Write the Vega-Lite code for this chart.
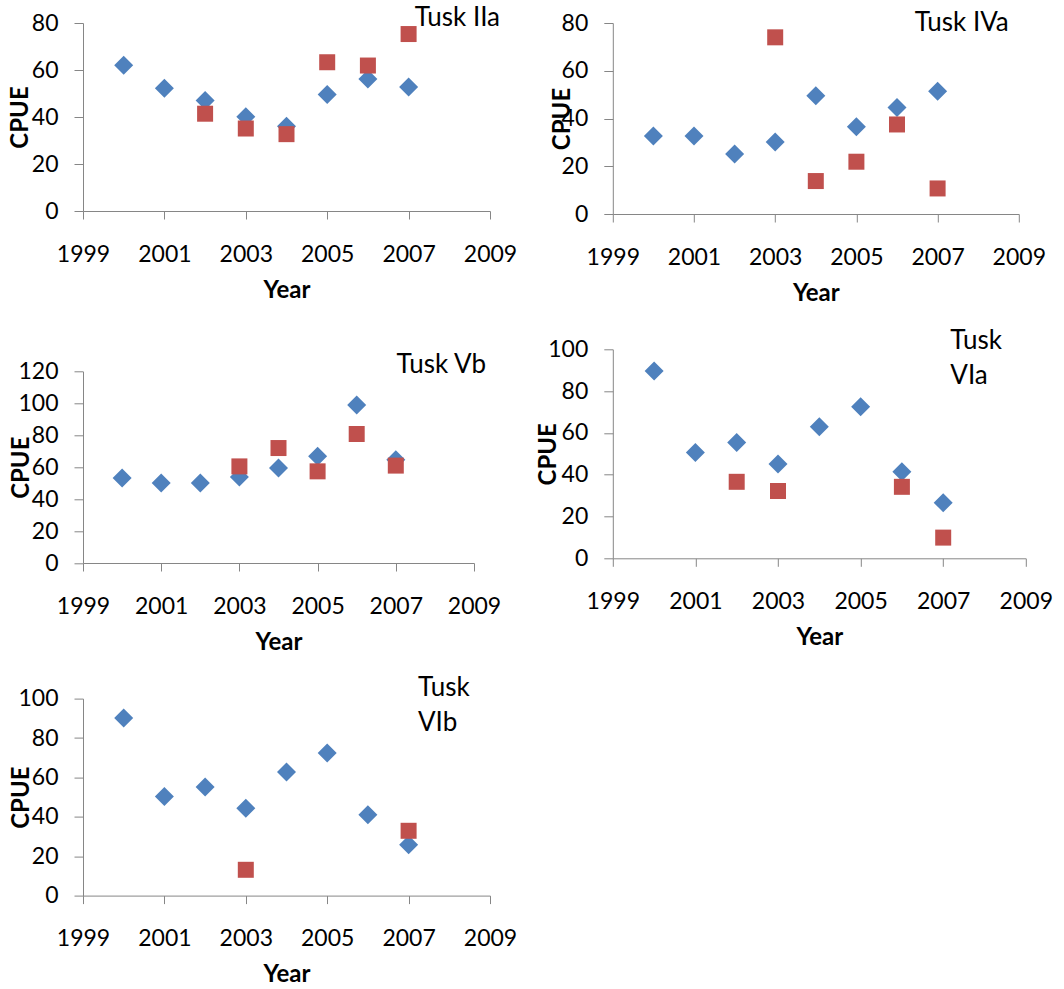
{
  "$schema": "https://vega.github.io/schema/vega-lite/v6.json",
  "padding": {"left": 8, "top": 5, "right": 5, "bottom": 0},
  "bounds": "flush",
  "align": "each",
  "columns": 2,
  "spacing": {"column": 122.8, "row": 135.3},
  "datasets": {
    "cpue": [
      {"panel": "Tusk IIa", "series": "Series1", "year": 2000, "cpue": 62.0},
      {"panel": "Tusk IIa", "series": "Series1", "year": 2001, "cpue": 52.2},
      {"panel": "Tusk IIa", "series": "Series1", "year": 2002, "cpue": 47.0},
      {"panel": "Tusk IIa", "series": "Series1", "year": 2003, "cpue": 40.1},
      {"panel": "Tusk IIa", "series": "Series1", "year": 2004, "cpue": 36.1},
      {"panel": "Tusk IIa", "series": "Series1", "year": 2005, "cpue": 49.6},
      {"panel": "Tusk IIa", "series": "Series1", "year": 2006, "cpue": 56.2},
      {"panel": "Tusk IIa", "series": "Series1", "year": 2007, "cpue": 52.8},
      {"panel": "Tusk IIa", "series": "Series2", "year": 2002, "cpue": 41.4},
      {"panel": "Tusk IIa", "series": "Series2", "year": 2003, "cpue": 35.1},
      {"panel": "Tusk IIa", "series": "Series2", "year": 2004, "cpue": 32.7},
      {"panel": "Tusk IIa", "series": "Series2", "year": 2005, "cpue": 63.3},
      {"panel": "Tusk IIa", "series": "Series2", "year": 2006, "cpue": 61.9},
      {"panel": "Tusk IIa", "series": "Series2", "year": 2007, "cpue": 75.3},
      {"panel": "Tusk IVa", "series": "Series1", "year": 2000, "cpue": 32.7},
      {"panel": "Tusk IVa", "series": "Series1", "year": 2001, "cpue": 32.7},
      {"panel": "Tusk IVa", "series": "Series1", "year": 2002, "cpue": 25.1},
      {"panel": "Tusk IVa", "series": "Series1", "year": 2003, "cpue": 30.2},
      {"panel": "Tusk IVa", "series": "Series1", "year": 2004, "cpue": 49.5},
      {"panel": "Tusk IVa", "series": "Series1", "year": 2005, "cpue": 36.5},
      {"panel": "Tusk IVa", "series": "Series1", "year": 2006, "cpue": 44.6},
      {"panel": "Tusk IVa", "series": "Series1", "year": 2007, "cpue": 51.4},
      {"panel": "Tusk IVa", "series": "Series2", "year": 2003, "cpue": 74.0},
      {"panel": "Tusk IVa", "series": "Series2", "year": 2004, "cpue": 13.8},
      {"panel": "Tusk IVa", "series": "Series2", "year": 2005, "cpue": 21.9},
      {"panel": "Tusk IVa", "series": "Series2", "year": 2006, "cpue": 37.5},
      {"panel": "Tusk IVa", "series": "Series2", "year": 2007, "cpue": 10.7},
      {"panel": "Tusk Vb", "series": "Series1", "year": 2000, "cpue": 53.2},
      {"panel": "Tusk Vb", "series": "Series1", "year": 2001, "cpue": 50.1},
      {"panel": "Tusk Vb", "series": "Series1", "year": 2002, "cpue": 50.1},
      {"panel": "Tusk Vb", "series": "Series1", "year": 2003, "cpue": 53.9},
      {"panel": "Tusk Vb", "series": "Series1", "year": 2004, "cpue": 59.5},
      {"panel": "Tusk Vb", "series": "Series1", "year": 2005, "cpue": 66.8},
      {"panel": "Tusk Vb", "series": "Series1", "year": 2006, "cpue": 99.0},
      {"panel": "Tusk Vb", "series": "Series1", "year": 2007, "cpue": 64.7},
      {"panel": "Tusk Vb", "series": "Series2", "year": 2003, "cpue": 60.5},
      {"panel": "Tusk Vb", "series": "Series2", "year": 2004, "cpue": 72.0},
      {"panel": "Tusk Vb", "series": "Series2", "year": 2005, "cpue": 57.4},
      {"panel": "Tusk Vb", "series": "Series2", "year": 2006, "cpue": 80.8},
      {"panel": "Tusk Vb", "series": "Series2", "year": 2007, "cpue": 61.0},
      {"panel": "Tusk VIa", "series": "Series1", "year": 2000, "cpue": 89.6},
      {"panel": "Tusk VIa", "series": "Series1", "year": 2001, "cpue": 50.6},
      {"panel": "Tusk VIa", "series": "Series1", "year": 2002, "cpue": 55.4},
      {"panel": "Tusk VIa", "series": "Series1", "year": 2003, "cpue": 45.1},
      {"panel": "Tusk VIa", "series": "Series1", "year": 2004, "cpue": 62.9},
      {"panel": "Tusk VIa", "series": "Series1", "year": 2005, "cpue": 72.5},
      {"panel": "Tusk VIa", "series": "Series1", "year": 2006, "cpue": 41.4},
      {"panel": "Tusk VIa", "series": "Series1", "year": 2007, "cpue": 26.6},
      {"panel": "Tusk VIa", "series": "Series2", "year": 2002, "cpue": 36.6},
      {"panel": "Tusk VIa", "series": "Series2", "year": 2003, "cpue": 32.2},
      {"panel": "Tusk VIa", "series": "Series2", "year": 2006, "cpue": 34.2},
      {"panel": "Tusk VIa", "series": "Series2", "year": 2007, "cpue": 9.9},
      {"panel": "Tusk VIb", "series": "Series1", "year": 2000, "cpue": 90.2},
      {"panel": "Tusk VIb", "series": "Series1", "year": 2001, "cpue": 50.3},
      {"panel": "Tusk VIb", "series": "Series1", "year": 2002, "cpue": 55.1},
      {"panel": "Tusk VIb", "series": "Series1", "year": 2003, "cpue": 44.4},
      {"panel": "Tusk VIb", "series": "Series1", "year": 2004, "cpue": 62.7},
      {"panel": "Tusk VIb", "series": "Series1", "year": 2005, "cpue": 72.4},
      {"panel": "Tusk VIb", "series": "Series1", "year": 2006, "cpue": 41.0},
      {"panel": "Tusk VIb", "series": "Series1", "year": 2007, "cpue": 25.8},
      {"panel": "Tusk VIb", "series": "Series2", "year": 2003, "cpue": 13.1},
      {"panel": "Tusk VIb", "series": "Series2", "year": 2007, "cpue": 32.9}
    ]
  },
  "concat": [
    {
      "width": 407, "height": 188,
      "data": {"name": "cpue"},
      "transform": [{"filter": "datum.panel === 'Tusk IIa'"}],
      "title": {"text": "Tusk IIa", "anchor": "end", "frame": "group", "orient": "top", "baseline": "alphabetic", "offset": 0, "dx": 10, "dy": 40},
      "mark": {"type": "point", "filled": true, "opacity": 1, "strokeWidth": 0},
      "encoding": {
        "x": {"field": "year", "type": "quantitative", "scale": {"domain": [1999, 2009], "nice": false, "zero": false}, "axis": {"values": [1999, 2001, 2003, 2005, 2007, 2009], "format": "d", "title": "Year"}},
        "y": {"field": "cpue", "type": "quantitative", "scale": {"domain": [0, 80], "nice": false}, "axis": {"values": [0, 20, 40, 60, 80], "title": "CPUE", "titleX": -55.5}},
        "color": {"field": "series", "type": "nominal", "scale": {"domain": ["Series1", "Series2"], "range": ["#4F81BD", "#C0504D"]}, "legend": null},
        "shape": {"field": "series", "type": "nominal", "scale": {"domain": ["Series1", "Series2"], "range": ["diamond", "square"]}, "legend": null},
        "size": {"field": "series", "type": "nominal", "scale": {"domain": ["Series1", "Series2"], "range": [361, 256]}, "legend": null}
      }
    },
    {
      "width": 406, "height": 191,
      "data": {"name": "cpue"},
      "transform": [{"filter": "datum.panel === 'Tusk IVa'"}],
      "title": {"text": "Tusk IVa", "anchor": "end", "frame": "group", "orient": "top", "baseline": "alphabetic", "offset": 0, "dx": -10, "dy": 45},
      "mark": {"type": "point", "filled": true, "opacity": 1, "strokeWidth": 0},
      "encoding": {
        "x": {"field": "year", "type": "quantitative", "scale": {"domain": [1999, 2009], "nice": false, "zero": false}, "axis": {"values": [1999, 2001, 2003, 2005, 2007, 2009], "format": "d", "title": "Year"}},
        "y": {"field": "cpue", "type": "quantitative", "scale": {"domain": [0, 80], "nice": false}, "axis": {"values": [0, 20, 40, 60, 80], "title": "CPUE", "titleX": -43.2}},
        "color": {"field": "series", "type": "nominal", "scale": {"domain": ["Series1", "Series2"], "range": ["#4F81BD", "#C0504D"]}, "legend": null},
        "shape": {"field": "series", "type": "nominal", "scale": {"domain": ["Series1", "Series2"], "range": ["diamond", "square"]}, "legend": null},
        "size": {"field": "series", "type": "nominal", "scale": {"domain": ["Series1", "Series2"], "range": [361, 256]}, "legend": null}
      }
    },
    {
      "width": 391, "height": 213.7,
      "data": {"name": "cpue"},
      "transform": [{"filter": "datum.panel === 'Tusk Vb'"}],
      "title": {"text": "Tusk Vb", "anchor": "end", "frame": "group", "orient": "top", "baseline": "alphabetic", "offset": 0, "dx": 12, "dy": 50},
      "mark": {"type": "point", "filled": true, "opacity": 1, "strokeWidth": 0},
      "encoding": {
        "x": {"field": "year", "type": "quantitative", "scale": {"domain": [1999, 2009], "nice": false, "zero": false}, "axis": {"values": [1999, 2001, 2003, 2005, 2007, 2009], "format": "d", "title": "Year"}},
        "y": {"field": "cpue", "type": "quantitative", "scale": {"domain": [0, 120], "nice": false, "range": [213.7, 22.1]}, "axis": {"values": [0, 20, 40, 60, 80, 100, 120], "title": "CPUE", "titleX": -55}},
        "color": {"field": "series", "type": "nominal", "scale": {"domain": ["Series1", "Series2"], "range": ["#4F81BD", "#C0504D"]}, "legend": null},
        "shape": {"field": "series", "type": "nominal", "scale": {"domain": ["Series1", "Series2"], "range": ["diamond", "square"]}, "legend": null},
        "size": {"field": "series", "type": "nominal", "scale": {"domain": ["Series1", "Series2"], "range": [361, 256]}, "legend": null}
      }
    },
    {
      "width": 413, "height": 209,
      "data": {"name": "cpue"},
      "transform": [{"filter": "datum.panel === 'Tusk VIa'"}],
      "title": {"text": ["Tusk", "VIa"], "anchor": "end", "align": "left", "frame": "group", "orient": "top", "baseline": "alphabetic", "lineHeight": 35, "offset": 0, "dx": -75.5, "dy": 72},
      "mark": {"type": "point", "filled": true, "opacity": 1, "strokeWidth": 0},
      "encoding": {
        "x": {"field": "year", "type": "quantitative", "scale": {"domain": [1999, 2009], "nice": false, "zero": false}, "axis": {"values": [1999, 2001, 2003, 2005, 2007, 2009], "format": "d", "title": "Year"}},
        "y": {"field": "cpue", "type": "quantitative", "scale": {"domain": [0, 100], "nice": false}, "axis": {"values": [0, 20, 40, 60, 80, 100], "title": "CPUE", "titleX": -57.8}},
        "color": {"field": "series", "type": "nominal", "scale": {"domain": ["Series1", "Series2"], "range": ["#4F81BD", "#C0504D"]}, "legend": null},
        "shape": {"field": "series", "type": "nominal", "scale": {"domain": ["Series1", "Series2"], "range": ["diamond", "square"]}, "legend": null},
        "size": {"field": "series", "type": "nominal", "scale": {"domain": ["Series1", "Series2"], "range": [361, 256]}, "legend": null}
      }
    },
    {
      "width": 407, "height": 197,
      "data": {"name": "cpue"},
      "transform": [{"filter": "datum.panel === 'Tusk VIb'"}],
      "title": {"text": ["Tusk", "VIb"], "anchor": "end", "align": "left", "frame": "group", "orient": "top", "baseline": "alphabetic", "lineHeight": 35, "offset": 0, "dx": -72, "dy": 69},
      "mark": {"type": "point", "filled": true, "opacity": 1, "strokeWidth": 0},
      "encoding": {
        "x": {"field": "year", "type": "quantitative", "scale": {"domain": [1999, 2009], "nice": false, "zero": false}, "axis": {"values": [1999, 2001, 2003, 2005, 2007, 2009], "format": "d", "title": "Year"}},
        "y": {"field": "cpue", "type": "quantitative", "scale": {"domain": [0, 100], "nice": false}, "axis": {"values": [0, 20, 40, 60, 80, 100], "title": "CPUE", "titleX": -55}},
        "color": {"field": "series", "type": "nominal", "scale": {"domain": ["Series1", "Series2"], "range": ["#4F81BD", "#C0504D"]}, "legend": null},
        "shape": {"field": "series", "type": "nominal", "scale": {"domain": ["Series1", "Series2"], "range": ["diamond", "square"]}, "legend": null},
        "size": {"field": "series", "type": "nominal", "scale": {"domain": ["Series1", "Series2"], "range": [361, 256]}, "legend": null}
      }
    }
  ],
  "config": {
    "background": "#ffffff",
    "view": {"stroke": null},
    "title": {"font": "Lato", "fontSize": 26, "fontWeight": "normal", "color": "#000000"},
    "axis": {
      "grid": false,
      "domainColor": "#868686",
      "tickColor": "#868686",
      "domainWidth": 1,
      "tickWidth": 1,
      "labelFont": "Lato",
      "labelFontSize": 23,
      "labelColor": "#000000",
      "labelFlush": false,
      "labelOverlap": false,
      "titleFont": "Lato",
      "titleFontSize": 24,
      "titleFontWeight": "bold",
      "titleColor": "#000000"
    },
    "axisX": {"tickSize": 8, "labelPadding": 24, "titlePadding": 12},
    "axisY": {"tickSize": 9, "labelPadding": 16, "titleBaseline": "alphabetic"}
  }
}
